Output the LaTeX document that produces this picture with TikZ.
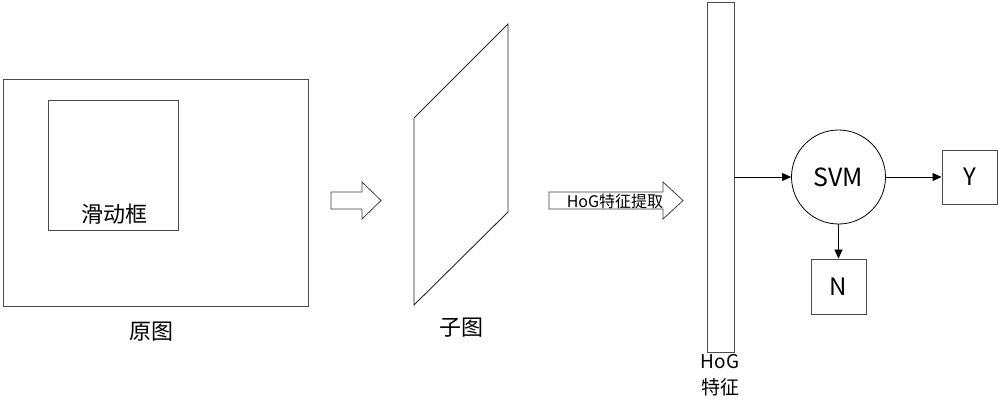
\documentclass[tikz,border=0pt]{standalone}
\usepackage{fontspec}
\setmainfont{Noto Sans CJK SC}
\usetikzlibrary{arrows.meta,positioning}
\tikzset{
  box/.style     = {draw=black!70, line width=0.9pt, inner sep=0pt},
  label/.style   = {inner sep=0pt, font=\fontsize{22}{26}\selectfont},
  bigarrow/.style= {draw=black!75, line width=0.8pt, fill=white},
  flow/.style    = {-{Triangle[length=9pt,width=8pt]}, line width=0.8pt},
}
\begin{document}
\begin{tikzpicture}[x=1pt, y=-1pt]
      \useasboundingbox (0,0) rectangle (999,416);
      % original image and sliding window
      \node [box, minimum width=305pt, minimum height=227pt] (orig) at (155.5,192.5) {};
      \node [box, minimum width=130pt, minimum height=130pt] (win)  at (113,165) {};
      \node [label]                          (wintxt)  at (114,214) {滑动框};
      \node [label]                          (origtxt) at (151,332) {原图};
      % first block arrow
      \draw [bigarrow] (331,192) -- (362,192) -- (362,182) -- (381,200.5)
                       -- (362,219) -- (362,209) -- (331,209) -- cycle;
      % sub image
      \draw [line width=0.9pt, draw=black!85] (414,118) -- (508,24) -- (508,212) -- (414,305) -- cycle;
      \node [label]                          (subtxt)  at (461,328) {子图};
      % second block arrow
      \draw [bigarrow] (549,192) -- (663,192) -- (663,182) -- (683,200.5)
                       -- (663,219) -- (663,209) -- (549,209) -- cycle;
      \node [inner sep=0pt, font=\fontsize{16}{18}\selectfont] (hogtxt) at (615,201) {HoG特征提取};
      % feature vector, classifier, outputs
      \node [box, minimum width=27pt, minimum height=350pt] (feat) at (720.5,177) {};
      \node [label, align=center, font=\fontsize{19}{26}\selectfont] (feattxt) at (720,375) {HoG\\特征};
      \node [draw, circle, line width=0.8pt, minimum size=94pt, inner sep=0pt,
             font=\fontsize{25}{28}\selectfont] (svm) at (838.5,177) {SVM};
      \node [box, minimum width=55pt, minimum height=54pt,
             font=\fontsize{24}{28}\selectfont] (yes) at (969.5,177) {Y};
      \node [box, minimum width=55pt, minimum height=55pt,
             font=\fontsize{24}{28}\selectfont] (no)  at (838.5,286.5) {N};
      \path[flow] (feat) edge (svm)
                  (svm)  edge (yes)
                  (svm)  edge (no)
      ;
    \end{tikzpicture}
\end{document}
